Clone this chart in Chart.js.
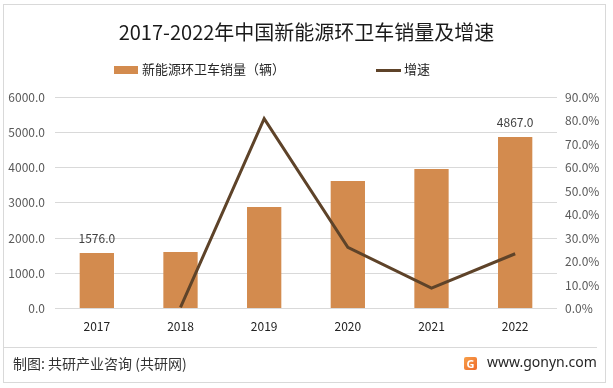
<!DOCTYPE html>
<html>
<head>
<meta charset="utf-8">
<script src="https://cdn.jsdelivr.net/npm/chart.js@4/dist/chart.umd.min.js"></script>
<style>
  body { margin: 0; background: #fff; font-family: "Noto Sans CJK SC", "Noto Sans", sans-serif; }
  #wrap { position: relative; width: 613px; height: 388px; overflow: hidden; }
  #frame { position: absolute; left: 3px; top: 4px; width: 601px; height: 377px; border: 1px solid #d9d9d9; }
  #title { position: absolute; left: 0; width: 613px; top: 19px; text-align: center; font-size: 20px; color: #1a1a1a; line-height: 26px; }
  .leg { position: absolute; top: 60px; font-size: 13px; color: #262626; line-height: 18px; }
  .sw { display: inline-block; vertical-align: middle; margin-right: 4px; }
  #foot-line { position: absolute; left: 4px; top: 347px; width: 593px; height: 1px; background: #d9d9d9; }
  #source { position: absolute; left: 13px; top: 353px; font-size: 14px; color: #333; line-height: 20px; }
  #site { position: absolute; left: 487px; top: 352px; font-size: 14px; color: #262626; line-height: 20px; font-family: "Noto Sans", sans-serif; }
  #logo { position: absolute; left: 464px; top: 357px; width: 13px; height: 13px; border-radius: 2px;
          background: linear-gradient(135deg, #f7a04a, #ef6a2a); color: #fff; font: bold 11px "Noto Sans", sans-serif;
          text-align: center; line-height: 13px; }
  canvas { position: absolute; left: 0; top: 0; }
</style>
</head>
<body>
<div id="wrap">
  <div id="frame"></div>
  <canvas id="myChart" width="613" height="388"></canvas>
  <div id="title">2017-2022年中国新能源环卫车销量及增速</div>
  <div class="leg" style="left:114px"><span class="sw" style="width:24px;height:8px;background:#d38b4e"></span>新能源环卫车销量（辆）</div>
  <div class="leg" style="left:376px"><span class="sw" style="width:25px;height:3px;background:#5e4329;margin-right:3px"></span>增速</div>
  <div id="foot-line"></div>
  <div id="source">制图: 共研产业咨询 (共研网)</div>
  <div id="logo">G</div>
  <div id="site">www.gonyn.com</div>
</div>
<script>
var years = ['2017', '2018', '2019', '2020', '2021', '2022'];
var sales = [1576, 1605, 2880, 3620, 3955, 4867];
var growth = [null, 0.005, 0.808, 0.26, 0.087, 0.233];
var labelled = [0, 5]; // bars that carry a value label

var barColor = '#d38b4e';
var lineColor = '#5e4329';

// value labels above the first and last bar
const barLabels = {
    id: 'barLabels',
    afterDatasetsDraw(chart) {
        const ctx = chart.ctx;
        const meta = chart.getDatasetMeta(1);
        ctx.save();
        ctx.font = '12px "Noto Sans CJK SC", "Noto Sans", sans-serif';
        ctx.fillStyle = '#404040';
        ctx.textAlign = 'center';
        ctx.textBaseline = 'middle';
        labelled.forEach(function(i) {
            const bar = meta.data[i];
            ctx.fillText(sales[i].toFixed(1), bar.x, bar.y - 15);
        });
        ctx.restore();
    }
};

var ctx = document.getElementById('myChart').getContext('2d');
var tickFont = { family: '"Noto Sans CJK SC", "Noto Sans", sans-serif', size: 12 };

window.myChart = new Chart(ctx, {
    data: {
        labels: years,
        datasets: [
            {
                type: 'line',
                label: '增速',
                data: growth,
                yAxisID: 'y1',
                borderColor: lineColor,
                borderWidth: 3,
                pointRadius: 0,
                tension: 0,
                order: 0
            },
            {
                type: 'bar',
                label: '新能源环卫车销量（辆）',
                data: sales,
                yAxisID: 'y',
                backgroundColor: barColor,
                barPercentage: 0.41,
                categoryPercentage: 1,
                order: 1
            }
        ]
    },
    options: {
        responsive: false,
        animation: false,
        layout: { padding: { top: 97, bottom: 40, left: 0, right: 0 } },
        plugins: {
            legend: { display: false },
            title: { display: false },
            tooltip: { enabled: false }
        },
        scales: {
            x: {
                grid: { display: false, drawTicks: false },
                border: { display: false },
                ticks: { color: '#222', font: tickFont, padding: 11 },
                afterFit: function(axis) { axis.height = 39.5; }
            },
            y: {
                position: 'left',
                min: 0,
                max: 6000,
                grid: { color: '#d9d9d9', drawTicks: false },
                border: { display: false },
                ticks: {
                    stepSize: 1000,
                    color: '#595959',
                    font: tickFont,
                    padding: 10,
                    callback: function(v) { return v.toFixed(1); }
                },
                afterFit: function(axis) { axis.width = 55; }
            },
            y1: {
                position: 'right',
                min: 0,
                max: 0.9,
                grid: { display: false, drawTicks: false },
                border: { display: false },
                ticks: {
                    stepSize: 0.1,
                    color: '#595959',
                    font: tickFont,
                    padding: 8,
                    callback: function(v) { return (v * 100).toFixed(1) + '%'; }
                },
                afterFit: function(axis) { axis.width = 56; }
            }
        }
    },
    plugins: [barLabels]
});
</script>
</body>
</html>
